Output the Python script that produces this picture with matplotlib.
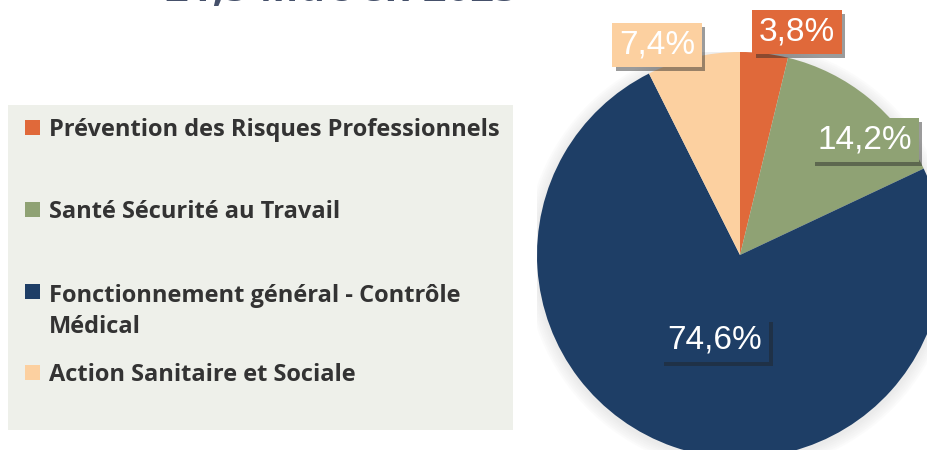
import numpy as np
import matplotlib.pyplot as plt
from matplotlib.patches import Rectangle, Circle
import matplotlib.patheffects as pe

# data
categories = ['Prévention des Risques Professionnels',
              'Santé Sécurité au Travail',
              'Fonctionnement général - Contrôle\nMédical',
              'Action Sanitaire et Sociale']
shares = [3.8, 14.2, 74.6, 7.4]
pct_labels = ['3,8%', '14,2%', '74,6%', '7,4%']
colors = ['#E0693A', '#8FA274', '#1E3E66', '#FCD0A0']
title = '21,5 Md€ en 2023'

W, H = 928, 450
fig = plt.figure(figsize=(W / 100, H / 100), dpi=100)
fig.patch.set_facecolor('white')

# title, mostly cut off at the top of the picture
fig.text(165 / W, 1 - 1 / H, title, fontsize=30, fontweight='bold',
         color='#45506A', family='Open Sans', va='baseline', ha='left')

# --- legend panel (left) ---
fig.patches.append(Rectangle((8 / W, 1 - 430 / H), 505 / W, 325 / H,
                             transform=fig.transFigure, facecolor='#EEF0EA',
                             edgecolor='none', zorder=0))
line_h = 33
first_baselines = [136, 218, 300, 381]   # pixel rows of the first text line
for cat, col, yb in zip(categories, colors, first_baselines):
    n_extra = cat.count('\n')
    fig.patches.append(Rectangle((25 / W, 1 - (yb - 1) / H), 15 / W, 15 / H,
                                 transform=fig.transFigure, facecolor=col,
                                 edgecolor='none', zorder=1))
    # matplotlib puts a multi-line text's last baseline on y
    fig.text(49 / W, 1 - (yb + n_extra * line_h) / H, cat, fontsize=17,
             fontweight='bold', color='#333333', family='Open Sans',
             va='baseline', ha='left', linespacing=1.4, zorder=2)

# --- pie (right) ---
cx, cy, r = 740, 255, 203
ax = fig.add_axes([(cx - r) / W, 1 - (cy + r) / H, 2 * r / W, 2 * r / H])
ax.axis('off')

# soft shadow around the pie
for k in range(6):
    ax.add_patch(Circle((0.0, -0.01), 1.0 + 0.01 * (k + 1), color='#999999',
                        alpha=0.03, lw=0, zorder=0))

ax.pie(shares, colors=colors, startangle=90, counterclock=False, radius=1,
       wedgeprops=dict(linewidth=0), frame=False)
ax.set_xlim(-1, 1)
ax.set_ylim(-1, 1)

label_pos = [(0.281, 1.099), (0.616, 0.567), (-0.123, -0.419), (-0.409, 1.034)]
for txt, col, (x, y) in zip(pct_labels, colors, label_pos):
    t = ax.text(x, y, txt, fontsize=24, family='Liberation Sans', color='white',
                ha='center', va='center', zorder=5, clip_on=False,
                bbox=dict(boxstyle='square,pad=0.2', facecolor=col,
                          edgecolor='none'))
    t.get_bbox_patch().set_path_effects([
        pe.SimplePatchShadow(offset=(2.5, -3), shadow_rgbFace='#222222', alpha=0.45),
        pe.Normal()])

fig.savefig('out.png', dpi=100)
